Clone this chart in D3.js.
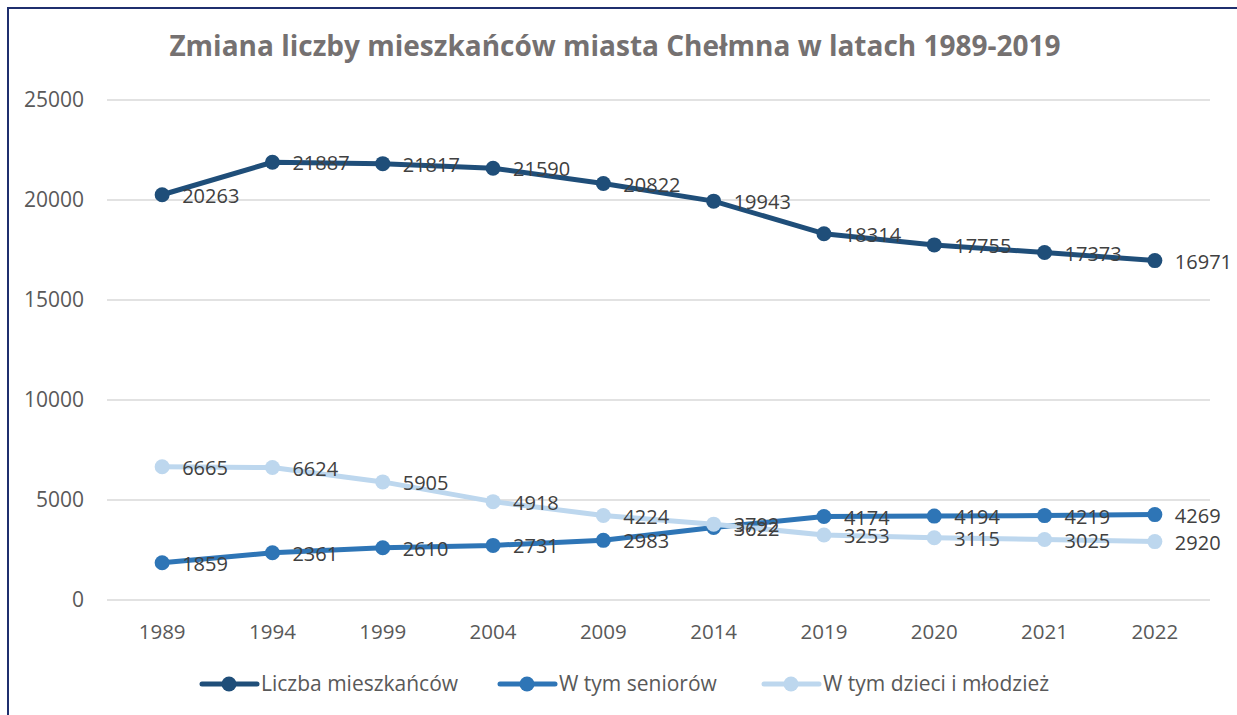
<!DOCTYPE html>
<html>
<head>
<meta charset="utf-8">
<script src="https://cdn.jsdelivr.net/npm/d3@7"></script>
<style>
  body { margin: 0; background: #fff; }
  text { font-family: "Open Sans", "Liberation Sans", sans-serif; }
</style>
</head>
<body>
<script>
const width = 1237;
const height = 715;

const years = ['1989', '1994', '1999', '2004', '2009', '2014', '2019', '2020', '2021', '2022'];
const residents = [20263, 21887, 21817, 21590, 20822, 19943, 18314, 17755, 17373, 16971];
const seniors = [1859, 2361, 2610, 2731, 2983, 3622, 4174, 4194, 4219, 4269];
const youth = [6665, 6624, 5905, 4918, 4224, 3792, 3253, 3115, 3025, 2920];
const yTicks = [0, 5000, 10000, 15000, 20000, 25000];

const series = [
    { name: 'Liczba mieszkańców', values: residents, color: '#1f4e79' },
    { name: 'W tym seniorów', values: seniors, color: '#2e75b6' },
    { name: 'W tym dzieci i młodzież', values: youth, color: '#bdd7ee' }
];

const svg = d3.select('body')
    .append('svg')
    .attr('width', width)
    .attr('height', height);

// ramka
svg.append('rect')
    .attr('x', 8).attr('y', 8)
    .attr('width', width + 20).attr('height', height + 20)
    .attr('fill', 'none')
    .attr('stroke', '#1f2f6e')
    .attr('stroke-width', 2);

const x = d3.scaleBand().domain(years).range([107, 1210]);
const y = d3.scaleLinear().domain([0, 25000]).range([600, 100]);

// tytul
svg.append('text')
    .attr('x', 615).attr('y', 56)
    .attr('text-anchor', 'middle')
    .attr('font-size', 28)
    .attr('font-weight', 'bold')
    .attr('fill', '#757171')
    .text('Zmiana liczby mieszkańców miasta Chełmna w latach 1989-2019');

// siatka
svg.append('g')
    .selectAll('line')
    .data(yTicks)
    .enter()
    .append('line')
    .attr('x1', 107).attr('x2', 1210)
    .attr('y1', d => y(d)).attr('y2', d => y(d))
    .attr('stroke', '#d9d9d9')
    .attr('stroke-width', 1.5);

// oś Y
svg.append('g')
    .selectAll('text')
    .data(yTicks)
    .enter()
    .append('text')
    .attr('x', 84)
    .attr('y', d => y(d))
    .attr('dy', '0.35em')
    .attr('text-anchor', 'end')
    .attr('font-size', 21)
    .attr('fill', '#595959')
    .text(d => d);

// oś X
svg.append('g')
    .selectAll('text')
    .data(years)
    .enter()
    .append('text')
    .attr('x', d => x(d) + x.bandwidth() / 2)
    .attr('y', 632)
    .attr('dy', '0.35em')
    .attr('text-anchor', 'middle')
    .attr('font-size', 20.5)
    .attr('fill', '#595959')
    .text(d => d);

const cx = (d, i) => x(years[i]) + x.bandwidth() / 2;
const line = d3.line().x(cx).y(d => y(d));

series.forEach(s => {
    const g = svg.append('g');
    g.append('path')
        .datum(s.values)
        .attr('d', line)
        .attr('fill', 'none')
        .attr('stroke', s.color)
        .attr('stroke-width', 5)
        .attr('stroke-linejoin', 'round')
        .attr('stroke-linecap', 'round');
    g.selectAll('circle')
        .data(s.values)
        .enter()
        .append('circle')
        .attr('cx', cx)
        .attr('cy', d => y(d))
        .attr('r', 7.5)
        .attr('fill', s.color);
});

// etykiety danych
series.forEach(s => {
    svg.append('g')
        .selectAll('text')
        .data(s.values)
        .enter()
        .append('text')
        .attr('x', (d, i) => cx(d, i) + 20)
        .attr('y', d => y(d) + 1)
        .attr('dy', '0.35em')
        .attr('font-size', 20)
        .attr('fill', '#404040')
        .text(d => d);
});

// legenda
const legendX = [199, 497, 761];
const legend = svg.append('g')
    .selectAll('g')
    .data(series)
    .enter()
    .append('g')
    .attr('transform', (d, i) => `translate(${legendX[i]}, 684)`);

legend.append('line')
    .attr('x1', 3).attr('x2', 58)
    .attr('stroke', d => d.color)
    .attr('stroke-width', 5)
    .attr('stroke-linecap', 'round');
legend.append('circle')
    .attr('cx', 30)
    .attr('r', 7.5)
    .attr('fill', d => d.color);
legend.append('text')
    .attr('x', 62)
    .attr('dy', '0.35em')
    .attr('font-size', 21)
    .attr('fill', '#595959')
    .text(d => d.name);
</script>
</body>
</html>
